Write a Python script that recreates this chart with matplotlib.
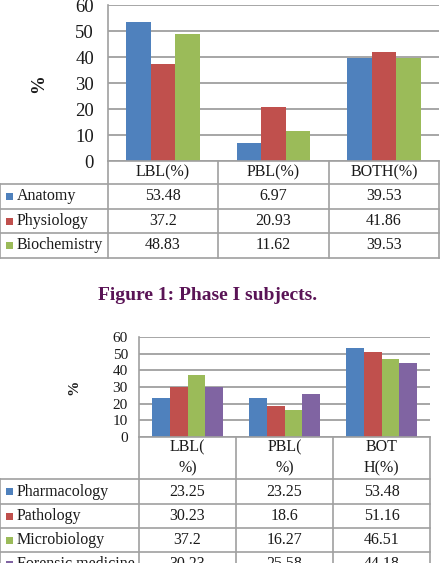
import matplotlib
matplotlib.use('Agg')
import matplotlib.pyplot as plt
from matplotlib.lines import Line2D
from matplotlib.patches import Rectangle

# figure size in pixels (dpi 100)
W, H = 441, 563

# --- data, chart 1 (Phase I) ---
groups1 = ['LBL(%)', 'PBL(%)', 'BOTH(%)']
subjects1 = ['Anatomy', 'Physiology', 'Biochemistry']
anatomy = [53.48, 6.97, 39.53]
physiology = [37.2, 20.93, 41.86]
biochemistry = [48.83, 11.62, 39.53]

# --- data, chart 2 (Phase II) ---
groups2 = ['LBL(\n%)', 'PBL(\n%)', 'BOT\nH(%)']
subjects2 = ['Pharmacology', 'Pathology', 'Microbiology', 'Forensic medicine']
pharmacology = [23.25, 23.25, 53.48]
pathology = [30.23, 18.6, 51.16]
microbiology = [37.2, 16.27, 46.51]
forensic = [30.23, 25.58, 44.18]

yticks = [0, 10, 20, 30, 40, 50, 60]
caption = 'Figure 1: Phase I subjects.'

colors = ['#4f81bd', '#c0504d', '#9bbb59', '#8064a2']
grid_c = '#8e8e8e'
border_c = '#a0a0a0'
txt_c = '#1a1a1a'
serif = 'Liberation Serif'

plt.rcParams['font.family'] = serif


def fx(x):
    return x / W


def fy(y):
    return 1 - y / H


def line(fig, x0, y0, x1, y1):
    fig.add_artist(Line2D([fx(x0), fx(x1)], [fy(y0), fy(y1)],
                          color=border_c, lw=1.2))


def chart(fig, box, series, names, groups, cols, rows,
          fs_tick, fs_tab, ylab, tick_pad, linesp=1.2):
    left, top, right, bottom = box
    ax = fig.add_axes([fx(left), fy(bottom), fx(right) - fx(left),
                       fy(top) - fy(bottom)])
    n = len(series)
    w = 1 / (n + 1.5)
    for i, vals in enumerate(series):
        xs = [g + (i - (n - 1) / 2) * w for g in range(len(groups))]
        ax.bar(xs, vals, width=w, color=colors[i], zorder=3)
    ax.set_xlim(-0.5, len(groups) - 0.5)
    ax.set_ylim(0, 60)
    ax.set_yticks(yticks)
    ax.set_xticks([])
    ax.tick_params(axis='y', length=0, pad=tick_pad, labelsize=fs_tick,
                   labelcolor=txt_c)
    ax.yaxis.grid(True, color=grid_c, lw=1.1, zorder=0)
    for s in ['top', 'right', 'bottom']:
        ax.spines[s].set_visible(False)
    ax.spines['left'].set_color(border_c)
    ax.spines['left'].set_linewidth(1.2)
    ax.patch.set_alpha(0)

    # y label
    fig.text(fx(ylab[0]), fy(ylab[1]), '%', rotation=90, ha='center',
             va='center', fontsize=ylab[2], fontweight='bold', color=txt_c)

    # data table under the axis
    y_bot = rows[-1]
    for x in cols[1:]:
        line(fig, x, rows[0], x, y_bot)
    line(fig, cols[0], rows[1], cols[0], y_bot)
    line(fig, cols[1], rows[0], cols[-1], rows[0])
    for y in rows[1:]:
        line(fig, cols[0], y, cols[-1], y)

    hy = (rows[0] + rows[1]) / 2
    for j, g in enumerate(groups):
        cx = (cols[j + 1] + cols[j + 2]) / 2
        fig.text(fx(cx), fy(hy), g, ha='center', va='center',
                 fontsize=fs_tab, color=txt_c, linespacing=linesp)

    for i, (name, vals) in enumerate(zip(names, series)):
        cy = (rows[i + 1] + rows[i + 2]) / 2
        fig.add_artist(Rectangle((fx(6), fy(cy + 3.5)), fx(7), 7 / H,
                                 color=colors[i], lw=0))
        fig.text(fx(17), fy(cy), name, ha='left', va='center',
                 fontsize=fs_tab, color=txt_c)
        for j, v in enumerate(vals):
            cx = (cols[j + 1] + cols[j + 2]) / 2
            fig.text(fx(cx), fy(cy), str(v), ha='center', va='center',
                     fontsize=fs_tab, color=txt_c)
    return ax


fig = plt.figure(figsize=(W / 100, H / 100), dpi=100)
fig.patch.set_facecolor('white')

chart(fig, (108, 5, 439, 161),
      [anatomy, physiology, biochemistry], subjects1, groups1,
      [0, 108, 218, 329, 439], [161, 184, 209, 233, 258],
      fs_tick=13.5, fs_tab=11.5, ylab=(39, 84, 13.5), tick_pad=10)

fig.text(fx(208), fy(295), caption, ha='center', va='center',
         fontsize=14, fontweight='bold', color='#5a1456')

chart(fig, (139, 337, 430, 437),
      [pharmacology, pathology, microbiology, forensic], subjects2, groups2,
      [0, 139, 236, 333, 430], [437, 479, 504, 528, 552, 577],
      fs_tick=11, fs_tab=11.5, ylab=(74, 387, 11), tick_pad=8, linesp=1.45)

fig.savefig('out.png', dpi=100)
